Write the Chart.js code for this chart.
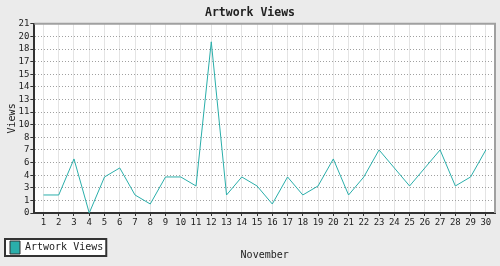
<!DOCTYPE html>
<html>
<head>
<meta charset="utf-8">
<title>Artwork Views</title>
<script src="https://cdn.jsdelivr.net/npm/chart.js@4/dist/chart.umd.min.js"></script>
<style>
  body { margin: 0; background: #ebebeb; }
  canvas { display: block; }
</style>
</head>
<body>
<canvas id="artworkViews" width="500" height="266"></canvas>
<script>
// DATA
const days = [1, 2, 3, 4, 5, 6, 7, 8, 9, 10, 11, 12, 13, 14, 15, 16, 17, 18, 19, 20, 21, 22, 23, 24, 25, 26, 27, 28, 29, 30]
const views = [2, 2, 6, 0, 4, 5, 2, 1, 4, 4, 3, 19, 2, 4, 3, 1, 4, 2, 3, 6, 2, 4, 7, 5, 3, 5, 7, 3, 4, 7]
const yTickLabels = ['0', '1', '3', '4', '6', '7', '8', '10', '11', '13', '14', '15', '17', '18', '20', '21']

const mono = "'DejaVu Sans Mono', 'Liberation Mono', monospace"
const teal = '#2aaeaa'

// white plot area, grey frame top/right, box round the legend
const plotFrame = {
  id: 'plotFrame',
  beforeDraw(chart) {
    const ctx = chart.ctx
    const area = chart.chartArea
    ctx.save()
    ctx.fillStyle = '#fff'
    ctx.fillRect(area.left, area.top, area.width, area.height)

    const box = chart.legend.legendHitBoxes[0]
    if (box) {
      ctx.strokeStyle = '#333'
      ctx.lineWidth = 2
      ctx.fillRect(box.left - 5, box.top - 2, box.width + 8, box.height + 4)
      ctx.strokeRect(box.left - 5, box.top - 2, box.width + 8, box.height + 4)
    }
    ctx.restore()
  },
  beforeDatasetsDraw(chart) {
    const ctx = chart.ctx
    const area = chart.chartArea
    ctx.save()
    ctx.strokeStyle = '#a0a0a0'
    ctx.lineWidth = 2
    ctx.beginPath()
    ctx.moveTo(area.left, area.top)
    ctx.lineTo(area.right, area.top)
    ctx.lineTo(area.right, area.bottom)
    ctx.stroke()
    ctx.restore()
  }
}

const ctx = document.getElementById('artworkViews')

new Chart(ctx, {
  type: 'line',
  data: {
    datasets: [{
      label: 'Artwork Views',
      data: days.map((d, i) => ({ x: d, y: views[i] })),
      borderColor: teal,
      backgroundColor: teal,
      borderWidth: 1,
      pointRadius: 0,
      tension: 0
    }]
  },
  options: {
    responsive: false,
    animation: false,
    devicePixelRatio: 1,
    layout: { padding: { left: 5, right: 5, top: 0, bottom: 2 } },
    scales: {
      x: {
        type: 'linear',
        min: 0.4,
        max: 30.6,
        afterBuildTicks: scale => {
          scale.ticks = scale.ticks.filter(t => Number.isInteger(t.value))
        },
        ticks: { stepSize: 1, includeBounds: false, autoSkip: false, maxRotation: 0, padding: 1, color: '#222', font: { family: mono, size: 9 } },
        grid: { color: '#e4e4e4', tickColor: '#333', tickLength: 3 },
        border: { color: '#333', width: 2 },
        title: {
          display: true,
          text: 'November',
          color: '#222',
          font: { family: mono, size: 10 },
          padding: { top: 20.2, bottom: -25 }
        }
      },
      y: {
        min: 0,
        max: 21,
        ticks: {
          count: 16,
          autoSkip: false,
          padding: 1,
          color: '#222',
          font: { family: mono, size: 9 },
          callback: (value, index) => yTickLabels[index]
        },
        grid: { color: '#a0a0a0', tickColor: '#333', tickLength: 4 },
        border: { color: '#333', width: 2, dash: [1, 2] },
        title: {
          display: true,
          text: 'Views',
          color: '#222',
          font: { family: mono, size: 10 },
          padding: { top: 1.5, bottom: -1 }
        }
      }
    },
    plugins: {
      title: {
        display: true,
        text: 'Artwork Views',
        color: '#222',
        font: { family: mono, size: 11.5, weight: 'bold' },
        padding: { top: 6, bottom: 4 }
      },
      legend: {
        position: 'bottom',
        align: 'start',
        labels: {
          boxWidth: 10,
          boxHeight: 13,
          padding: 5,
          color: '#222',
          font: { family: mono, size: 10 },
          generateLabels: chart => Chart.defaults.plugins.legend.labels.generateLabels(chart)
            .map(item => Object.assign(item, { strokeStyle: '#333', lineWidth: 1 }))
        }
      },
      tooltip: { enabled: false }
    }
  },
  plugins: [plotFrame]
})
</script>
</body>
</html>
